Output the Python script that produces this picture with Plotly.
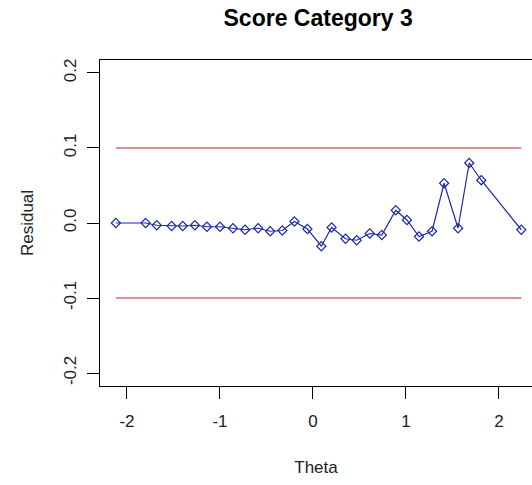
import plotly.graph_objects as go

# Residuals by theta
theta = [-2.12, -1.80, -1.68, -1.52, -1.40, -1.27, -1.14, -1.00, -0.86, -0.73,
         -0.59, -0.46, -0.33, -0.20, -0.06, 0.09, 0.20, 0.35, 0.47, 0.61,
         0.74, 0.89, 1.01, 1.14, 1.28, 1.41, 1.56, 1.68, 1.81, 2.24]
residual = [0.000, 0.000, -0.003, -0.004, -0.004, -0.003, -0.005, -0.005, -0.007, -0.009,
            -0.007, -0.011, -0.010, 0.002, -0.008, -0.031, -0.006, -0.021, -0.023, -0.014,
            -0.016, 0.017, 0.004, -0.018, -0.011, 0.053, -0.007, 0.080, 0.057, -0.009]
bounds = [0.1, -0.1]

x_ticks = [-2, -1, 0, 1, 2]
y_ticks = [-0.2, -0.1, 0.0, 0.1, 0.2]
y_tick_labels = ["-0.2", "-0.1", "0.0", "0.1", "0.2"]

font = "Liberation Sans, Arial, sans-serif"

fig = go.Figure()

# reference bands at +/- 0.1 spanning the theta range
for b in bounds:
    fig.add_trace(go.Scatter(
        x=[theta[0], theta[-1]], y=[b, b],
        mode="lines", line=dict(color="#c41f1f", width=1.2),
        showlegend=False, hoverinfo="skip"
    ))

fig.add_trace(go.Scatter(
    x=theta, y=residual,
    mode="lines+markers",
    line=dict(color="#1f2aa8", width=1.2),
    marker=dict(symbol="diamond-open", size=7, color="#1f2aa8", line=dict(width=1.2)),
    showlegend=False
))

fig.update_layout(
    width=532, height=485,
    margin=dict(l=100, r=0, t=60, b=99),
    paper_bgcolor="white", plot_bgcolor="white",
    font=dict(family=font, size=17, color="#222222"),
    title=dict(text="<b>Score Category 3</b>", x=0.598, xanchor="center",
               y=0.963, yanchor="middle", font=dict(size=23, color="black")),
    xaxis=dict(
        range=[-2.29, 2.355], tickvals=x_ticks, ticktext=[str(t) for t in x_ticks],
        showline=True, linecolor="black", linewidth=1, mirror=True,
        ticks="outside", ticklen=12, tickcolor="black", tickwidth=1,
        showgrid=False, zeroline=False, ticklabelstandoff=8,
        title=dict(text="Theta", standoff=30, font=dict(size=17))
    ),
    yaxis=dict(
        range=[-0.2173, 0.2173], tickvals=y_ticks, ticktext=y_tick_labels,
        tickangle=-90,
        showline=True, linecolor="black", linewidth=1, mirror=False,
        ticks="outside", ticklen=12, tickcolor="black", tickwidth=1,
        showgrid=False, zeroline=False, ticklabelstandoff=4,
        title=dict(text="Residual", standoff=23, font=dict(size=17))
    ),
)

# drop the default page margin so the figure sits at the window origin
fig.write_html("out.html", config={"displayModeBar": False},
               post_script="document.body.style.margin='0';document.body.style.overflow='hidden';")
